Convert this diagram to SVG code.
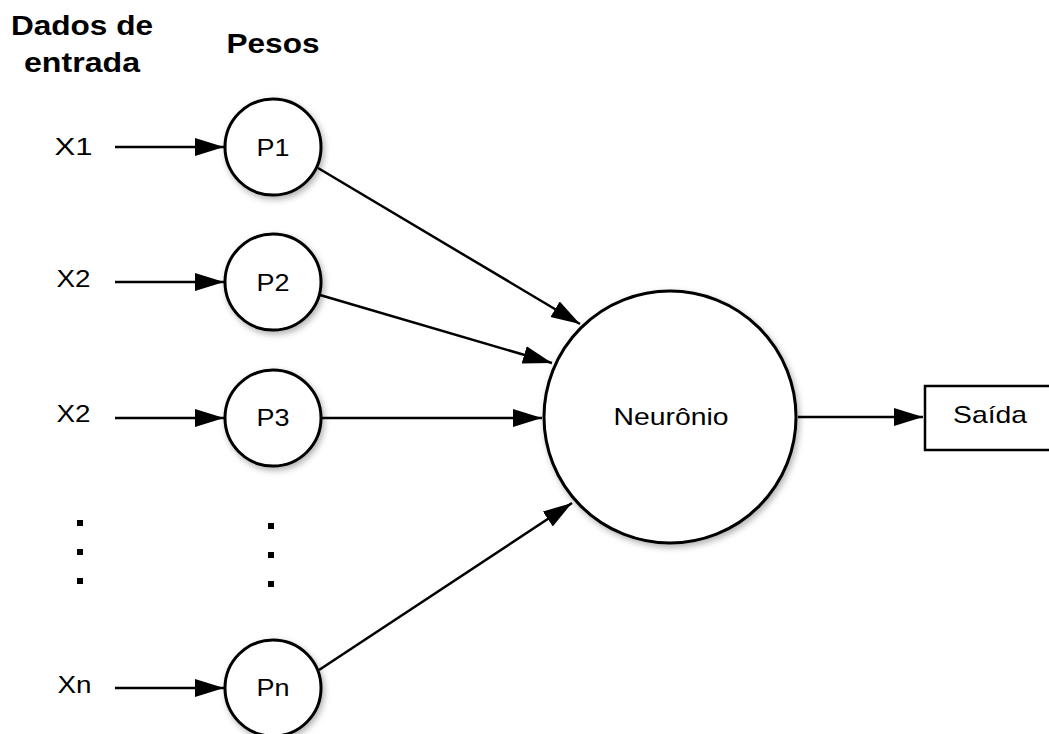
<svg xmlns="http://www.w3.org/2000/svg" width="1049" height="734" viewBox="0 0 1049 734">
  <defs>
    <filter id="shadow" x="-30%" y="-30%" width="160%" height="160%">
      <feDropShadow dx="2" dy="3" stdDeviation="3" flood-color="#000" flood-opacity="0.3"/>
    </filter>
    <marker id="arrow" markerUnits="userSpaceOnUse" markerWidth="32" markerHeight="20" refX="29" refY="9" orient="auto">
      <path d="M0,0 L29,9 L0,18 z" fill="#000"/>
    </marker>
  </defs>
  <style>
    .node { fill: #fff; stroke: #000; stroke-width: 3; }
    .box { fill: #fff; stroke: #000; stroke-width: 2.5; }
    .lbl { font-family: "Liberation Sans", Arial, sans-serif; font-size: 24px; fill: #000; text-anchor: middle; }
    .hdr { font-family: "Liberation Sans", Arial, sans-serif; font-size: 28px; font-weight: bold; fill: #000; text-anchor: middle; }
    .edge { stroke: #000; stroke-width: 2.5; fill: none; marker-end: url(#arrow); }
    .dot { fill: #000; }
  </style>

  <g id="headers">
    <text class="hdr" x="82" y="35" textLength="142" lengthAdjust="spacingAndGlyphs">Dados de</text>
    <text class="hdr" x="82" y="72" textLength="116" lengthAdjust="spacingAndGlyphs">entrada</text>
    <text class="hdr" x="273" y="53" textLength="93" lengthAdjust="spacingAndGlyphs">Pesos</text>
  </g>

  <g id="inputs">
    <text class="lbl" x="73.5" y="155" textLength="38" lengthAdjust="spacingAndGlyphs">X1</text>
    <text class="lbl" x="73.5" y="287" textLength="34" lengthAdjust="spacingAndGlyphs">X2</text>
    <text class="lbl" x="73.5" y="422" textLength="34" lengthAdjust="spacingAndGlyphs">X2</text>
    <text class="lbl" x="74.5" y="693" textLength="34" lengthAdjust="spacingAndGlyphs">Xn</text>
  </g>

  <g id="dots">
    <rect class="dot" x="77" y="520" width="6" height="6"/>
    <rect class="dot" x="77" y="549" width="6" height="6"/>
    <rect class="dot" x="77" y="578" width="6" height="6"/>
    <rect class="dot" x="268" y="523" width="6" height="6"/>
    <rect class="dot" x="268" y="552" width="6" height="6"/>
    <rect class="dot" x="268" y="581" width="6" height="6"/>
  </g>

  <g id="P1">
    <circle class="node" cx="273" cy="147" r="48" filter="url(#shadow)"/>
    <text class="lbl" x="273" y="156" textLength="33" lengthAdjust="spacingAndGlyphs">P1</text>
  </g>
  <g id="P2">
    <circle class="node" cx="273" cy="282" r="48" filter="url(#shadow)"/>
    <text class="lbl" x="273" y="291" textLength="33" lengthAdjust="spacingAndGlyphs">P2</text>
  </g>
  <g id="P3">
    <circle class="node" cx="273" cy="418" r="48" filter="url(#shadow)"/>
    <text class="lbl" x="273" y="426" textLength="33" lengthAdjust="spacingAndGlyphs">P3</text>
  </g>
  <g id="Pn">
    <circle class="node" cx="273" cy="688" r="48" filter="url(#shadow)"/>
    <text class="lbl" x="273" y="696" textLength="33" lengthAdjust="spacingAndGlyphs">Pn</text>
  </g>

  <g id="neuronio">
    <circle class="node" cx="670" cy="417" r="126" filter="url(#shadow)"/>
    <text class="lbl" x="671" y="425" textLength="115" lengthAdjust="spacingAndGlyphs">Neurônio</text>
  </g>

  <g id="saida">
    <rect class="box" x="925" y="386" width="135" height="64"/>
    <text class="lbl" x="990" y="423" textLength="74" lengthAdjust="spacingAndGlyphs">Saída</text>
  </g>

  <g id="connectors">
    <line class="edge" x1="115" y1="147" x2="224" y2="147"/>
    <line class="edge" x1="115" y1="282" x2="224" y2="282"/>
    <line class="edge" x1="115" y1="418" x2="224" y2="418"/>
    <line class="edge" x1="115" y1="688" x2="224" y2="688"/>
    <line class="edge" x1="318" y1="168" x2="580" y2="324"/>
    <line class="edge" x1="320" y1="295" x2="552" y2="363"/>
    <line class="edge" x1="322" y1="418" x2="542" y2="418"/>
    <line class="edge" x1="319" y1="670" x2="572" y2="503"/>
    <line class="edge" x1="798" y1="417" x2="923" y2="417"/>
  </g>
</svg>
